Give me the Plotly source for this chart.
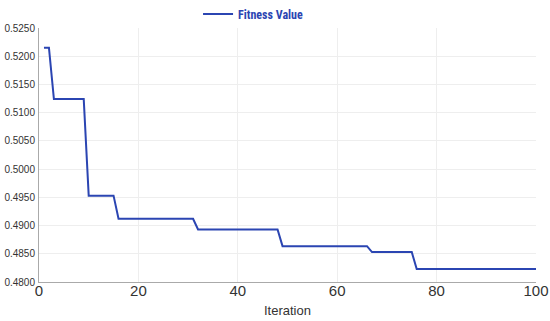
import plotly.graph_objects as go

iterations = [1, 2, 3, 9, 10, 15, 16, 31, 32, 48, 49, 66, 67, 75, 76, 100]
fitness = [0.5215, 0.5215, 0.5124, 0.5124, 0.4953, 0.4953, 0.4912, 0.4912,
           0.4893, 0.4893, 0.48635, 0.48635, 0.4853, 0.4853, 0.4823, 0.4823]
series_name = "Fitness Value"

fig = go.Figure()
fig.add_trace(go.Scatter(x=iterations, y=fitness, mode="lines", name=series_name,
                         line=dict(color="#2B45B2", width=2)))

fig.update_layout(
    width=550, height=321,
    margin=dict(l=39, r=14, t=28, b=39, autoexpand=False),
    paper_bgcolor="white", plot_bgcolor="white",
    showlegend=True,
    legend=dict(orientation="h", x=0.32, xanchor="left", yref="container",
                y=0.956, yanchor="middle",
                font=dict(family="Roboto Condensed, Roboto", size=12, color="#2B45B2", weight="bold"),
                itemwidth=30, bgcolor="rgba(0,0,0,0)"),
    xaxis=dict(range=[0, 100], dtick=20, showgrid=True, gridcolor="#EEEEEE",
               showline=True, linecolor="#AAAAAA", linewidth=1, ticks="",
               zeroline=False, automargin=False, ticklabelstandoff=-5,
               tickfont=dict(family="Liberation Sans, Arial", size=15, color="#333333"),
               title=dict(text="Iteration", standoff=7,
                          font=dict(family="Liberation Sans, Arial", size=13, color="#333333"))),
    yaxis=dict(range=[0.48, 0.525], dtick=0.005, tickformat=".4f", showgrid=True,
               gridcolor="#EEEEEE", showline=True, linecolor="#AAAAAA", linewidth=1,
               ticks="", zeroline=False, automargin=False, ticklabelstandoff=1,
               tickfont=dict(family="Liberation Sans, Arial", size=10, color="#333333")),
)

fig.write_html("out.html", config={"displayModeBar": False},
               post_script="document.body.style.margin='0px';document.body.style.overflow='hidden';")
